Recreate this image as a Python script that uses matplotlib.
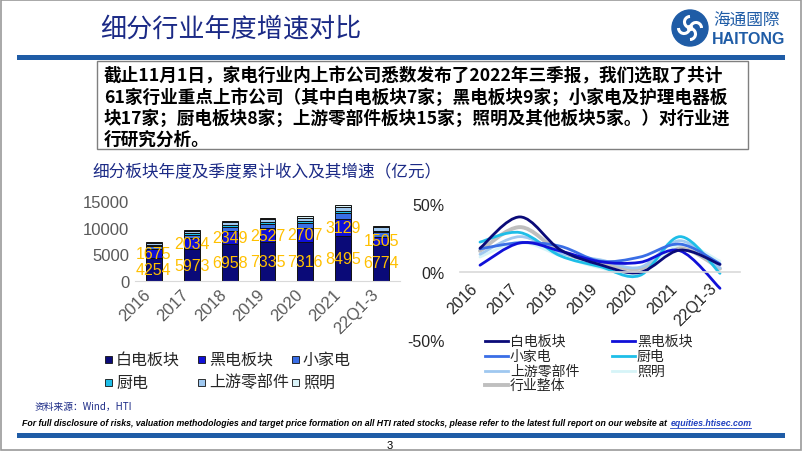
import numpy as np
import matplotlib
matplotlib.use('Agg')
import matplotlib.pyplot as plt
from matplotlib.patches import Rectangle, Circle, Arc, PathPatch
from matplotlib.path import Path
from matplotlib.lines import Line2D

W, H = 802, 452
CJK = ['Noto Sans CJK SC', 'DejaVu Sans']
LAT = ['Liberation Sans', 'DejaVu Sans']

# ---- data ----
years = ['2016', '2017', '2018', '2019', '2020', '2021', '22Q1-3']
seg_names = ['白电板块', '黑电板块', '小家电', '厨电', '上游零部件', '照明']
baidian = [4254, 5973, 6958, 7335, 7316, 8495, 6774]
heidian = [1675, 2034, 2349, 2527, 2707, 3129, 1505]
xiaojiadian = [560, 650, 780, 850, 900, 1100, 850]
chudian = [260, 300, 330, 330, 320, 400, 310]
shangyou = [400, 450, 580, 620, 650, 800, 620]
zhaoming = [150, 160, 200, 240, 260, 300, 220]

# growth, %
g_baidian = [17.5, 40.5, 16.5, 5.4, -0.3, 16.1, 5.5]
g_heidian = [5.0, 21.4, 15.5, 7.6, 7.1, 15.6, -12.0]
g_xiaojiadian = [17.0, 21.5, 19.0, 8.0, 11.0, 20.5, 6.0]
g_chudian = [22.0, 29.0, 12.0, 4.0, -2.5, 26.0, -1.0]
g_shangyou = [13.0, 26.0, 14.0, 9.0, 3.5, 23.0, 3.0]
g_zhaoming = [11.0, 22.0, 12.0, 3.0, -1.0, 20.0, 8.0]
g_total = [15.5, 33.0, 15.0, 7.0, 2.5, 17.5, 2.5]
line_names = ['白电板块', '黑电板块', '小家电', '厨电', '上游零部件', '照明', '行业整体']

bar_colors = ['#0a0a78', '#1010d8', '#3a6ee6', '#1ebee8', '#9fc8f0', '#d9f3f8']
line_colors = ['#0a0a78', '#1010d8', '#3a6ee6', '#1ebee8', '#9fc8f0', '#d6f4f8', '#bfbfbf']
navy = '#1b2a86'
blue = '#1f5ca6'


def px(x, y):
    return x / W, 1 - y / H


fig = plt.figure(figsize=(W / 100, H / 100), dpi=100)
fig.patch.set_facecolor('white')

# slide frame, header, footer
fig.patches.append(Rectangle(px(1, 451), 800 / W, 450 / H, transform=fig.transFigure,
                             fill=False, ec='#9a9a9a', lw=1.2))
fig.patches.append(Rectangle(px(17, 61), 768 / W, 5 / H, transform=fig.transFigure,
                             color=blue, lw=0))
fig.patches.append(Rectangle(px(17, 439), 768 / W, 5 / H, transform=fig.transFigure,
                             color=blue, lw=0))
fig.text(*px(100, 29), '细分行业年度增速对比', family=CJK, fontsize=18.8,
         color=navy, va='center', ha='left')

# logo
fig.patches.append(Circle((690, H - 29), 18, transform=None, color=blue))
for ang in (0, 90, 180, 270):
    fig.patches.append(Arc((690 + 6 * np.cos(np.radians(ang)), H - 29 + 6 * np.sin(np.radians(ang))),
                           11, 11, theta1=ang, theta2=ang + 200, transform=None,
                           color='white', lw=2.2))
fig.patches.append(Circle((690, H - 29), 2.5, transform=None, color='white'))
fig.text(*px(713, 20), '海通國際', family=CJK, fontsize=12, color=blue,
         va='center', ha='left')
fig.text(*px(712, 40), 'HAITONG', family=LAT, fontsize=11.5, fontweight='bold',
         color=blue, va='center', ha='left')

# text box
fig.patches.append(Rectangle(px(97, 150), 651 / W, 88 / H, transform=fig.transFigure,
                             fill=False, ec='#7f7f7f', lw=1))
box_lines = [
    '截止11月1日，家电行业内上市公司悉数发布了2022年三季报，我们选取了共计',
    '61家行业重点上市公司（其中白电板块7家；黑电板块9家；小家电及护理电器板',
    '块17家；厨电板块8家；上游零部件板块15家；照明及其他板块5家。）对行业进',
    '行研究分析。',
]
for i, s in enumerate(box_lines):
    fig.text(*px(104, 76 + i * 21.3), s, family=CJK, fontsize=12.7,
             fontweight='bold', color='black', va='center', ha='left')

fig.text(*px(92, 172), '细分板块年度及季度累计收入及其增速（亿元）', family=CJK,
         fontsize=12, color=navy, va='center', ha='left')

# ---- stacked bar chart ----
ax1 = fig.add_axes([135 / W, 1 - 282 / H, 265 / W, 80 / H])
x = np.arange(len(years))
bottom = np.zeros(len(years))
segs = [baidian, heidian, xiaojiadian, chudian, shangyou, zhaoming]
for vals, c in zip(segs, bar_colors):
    ax1.bar(x, vals, 0.42, bottom=bottom, color=c, edgecolor='#111111', lw=0.7)
    bottom += np.array(vals)
for i in range(len(years)):
    ax1.text(x[i], baidian[i] / 2, str(baidian[i]), ha='center', va='center',
             color='#FFC000', fontsize=11.5, family=LAT)
    ax1.text(x[i], baidian[i] + heidian[i] / 2, str(heidian[i]), ha='center',
             va='center', color='#FFC000', fontsize=11.5, family=LAT)
ax1.set_xlim(-0.5, 6.5)
ax1.set_ylim(0, 15000)
ax1.set_yticks([0, 5000, 10000, 15000])
ax1.set_xticks(x)
ax1.set_xticklabels(years, rotation=45, ha='right', va='top')
for sp in ('top', 'right', 'left'):
    ax1.spines[sp].set_visible(False)
ax1.spines['bottom'].set_color('#d9d9d9')
ax1.tick_params(length=0, colors='#595959', labelsize=12)
ax1.tick_params(axis='y', pad=4)
for t in ax1.get_xticklabels() + ax1.get_yticklabels():
    t.set_family(LAT)
ax1.set_facecolor('none')

# bar legend
lx = [105, 198, 292]
ly = [360, 383]
for k in range(len(seg_names)):
    xx, yy = lx[k % 3], ly[k // 3]
    fig.patches.append(Rectangle(px(xx, yy + 3.5), 7 / W, 7 / H, transform=fig.transFigure,
                                 fc=bar_colors[k], ec='#111111', lw=0.6))
    fig.text(*px(xx + 11, yy), seg_names[k], family=CJK, fontsize=11.5,
             color='#262626', va='center', ha='left')

# ---- growth lines ----
ax2 = fig.add_axes([460 / W, 1 - 341 / H, 280 / W, 136 / H])
for sp in ('top', 'right', 'left'):
    ax2.spines[sp].set_visible(False)
ax2.spines['bottom'].set_position(('data', 0))
ax2.spines['bottom'].set_color('#d9d9d9')
ax2.spines['bottom'].set_linewidth(1.2)

series = [g_baidian, g_heidian, g_xiaojiadian, g_chudian, g_shangyou, g_zhaoming, g_total]
widths = [2.0, 2.0, 2.0, 2.0, 2.0, 2.0, 2.8]
draw_order = [6, 5, 4, 3, 2, 1, 0]


def smooth_path(xs, ys):
    # Catmull-Rom style bezier, like office smoothed lines
    p = np.column_stack([xs, ys]).astype(float)
    ext = np.vstack([p[0], p, p[-1]])
    verts = [p[0]]
    codes = [Path.MOVETO]
    for i in range(len(p) - 1):
        p0, p1, p2, p3 = ext[i], ext[i + 1], ext[i + 2], ext[i + 3]
        c1 = p1 + (p2 - p0) / 6
        c2 = p2 - (p3 - p1) / 6
        verts += [c1, c2, p2]
        codes += [Path.CURVE4] * 3
    return Path(verts, codes)


for k in draw_order:
    ax2.add_patch(PathPatch(smooth_path(x, series[k]), fill=False,
                            ec=line_colors[k], lw=widths[k], capstyle='round'))
ax2.set_xlim(-0.5, 6.5)
ax2.set_ylim(-50, 50)
ax2.set_yticks([-50, 0, 50])
ax2.set_yticklabels(['-50%', '0%', '50%'])
ax2.set_xticks(x)
ax2.set_xticklabels(years, rotation=45, ha='right', va='top')
ax2.tick_params(length=0, colors='#262626', labelsize=11.5)
ax2.tick_params(axis='y', pad=11)
ax2.tick_params(axis='x', pad=6)
for t in ax2.get_xticklabels() + ax2.get_yticklabels():
    t.set_family(LAT)
ax2.set_facecolor('none')

# line legend
cols = [485, 612]
rows = [342, 356.5, 371.5, 386]
for k in range(len(line_names)):
    xx, yy = cols[k % 2], rows[k // 2]
    fig.lines.append(Line2D([xx / W, (xx + 23) / W], [1 - yy / H, 1 - yy / H],
                            transform=fig.transFigure, color=line_colors[k],
                            lw=widths[k]))
    fig.text(*px(xx + 25, yy), line_names[k], family=CJK, fontsize=10,
             color='#262626', va='center', ha='left')

# footer text
fig.text(*px(35, 407), '资料来源：Wind，HTI', family=CJK, fontsize=7,
         color=navy, va='center', ha='left')
disc = fig.text(*px(22, 424), 'For full disclosure of risks, valuation methodologies and target '
                'price formation on all HTI rated stocks, please refer to the latest full '
                'report on our website at ', family=LAT, fontsize=6.35, fontweight='bold',
                style='italic', color='black', va='center', ha='left')
fig.canvas.draw()
bb = disc.get_window_extent()
link = fig.text(bb.x1 / W + 1 / W, 1 - 424 / H, 'equities.htisec.com', family=LAT,
                fontsize=6.35, fontweight='bold', style='italic', color='#1f3fbf',
                va='center', ha='left')
fig.canvas.draw()
lb = link.get_window_extent()
fig.lines.append(Line2D([lb.x0 / W, lb.x1 / W], [lb.y0 / H, lb.y0 / H],
                        transform=fig.transFigure, color='#1f3fbf', lw=0.6))
fig.text(*px(390, 446), '3', family=LAT, fontsize=8, color='black',
         va='center', ha='center')

fig.savefig('out.png', dpi=100, facecolor='white')
